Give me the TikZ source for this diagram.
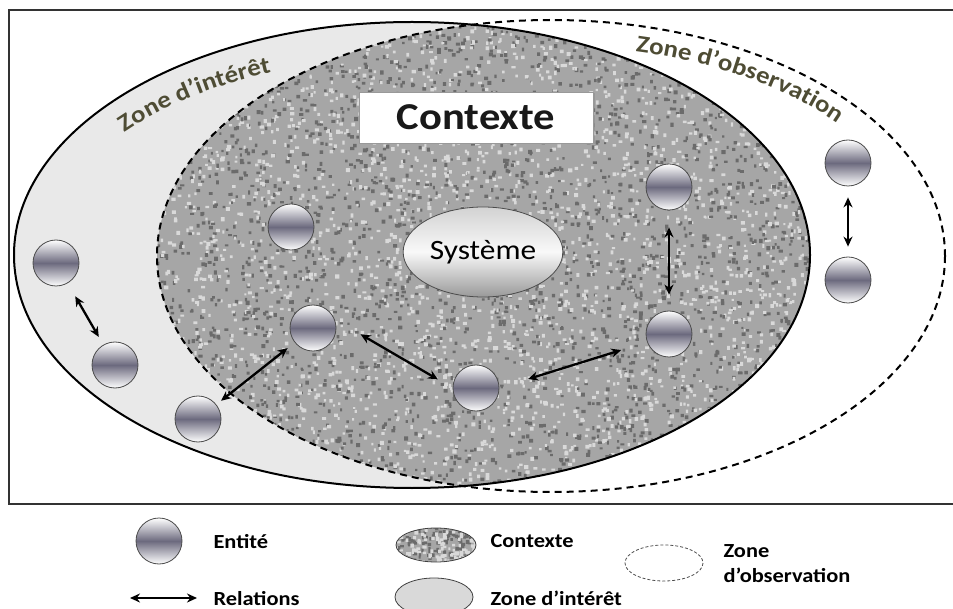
\documentclass[tikz,border=0pt]{standalone}
\usepackage{fontspec}
\setmainfont{Carlito}[FakeStretch=1.12]
\usepackage{tikz}
\usetikzlibrary{arrows.meta,positioning,shapes.geometric,shadows,decorations.text}

\definecolor{zonetext}{RGB}{78,76,52}
\definecolor{entmid}{RGB}{108,106,126}

% granite specks: n, x0, width, y0, height
\newcommand{\granite}[5]{%
  \fill[black!58] \foreach \k in {1,...,#1}{
    ({#2+#3*rnd},{#4+#5*rnd}) rectangle ++({2+2.2*rnd},{2+2.2*rnd})};
  \fill[black!15] \foreach \k in {1,...,#1}{
    ({#2+#3*rnd},{#4+#5*rnd}) rectangle ++({2+2.2*rnd},{2+2.2*rnd})};
}

\begin{document}
\begin{tikzpicture}[x=1pt,y=-1pt,
  every node/.style={font=\fontsize{20}{24}\selectfont\bfseries},
  ent/.style={circle,draw=black!70,line width=0.8pt,minimum size=46pt,inner sep=0pt,
    top color=white,bottom color=white,middle color=entmid},
  sys/.style={ellipse,draw=black!70,line width=0.8pt,minimum width=140pt,minimum height=90pt,
    top color=gray!35,bottom color=black!40,middle color=gray!5},
  rel/.style={{Stealth[length=10pt,width=9pt]}-{Stealth[length=10pt,width=9pt]},line width=2.3pt},
  zone/.style={line width=2pt}
]
\useasboundingbox (0,0) rectangle (953,609);

% frame
\draw[black!80,line width=1.3pt] (953,10) -- (9,10) -- (9,504) -- (953,504);

% zone d'interet and contexte
\fill[gray!17] (412,255) ellipse [x radius=398, y radius=233];
\begin{scope}
  \clip (412,255) ellipse [x radius=398, y radius=233];
  \clip (551,256) ellipse [x radius=394, y radius=236];
  \fill[black!35] (150,15) rectangle (815,495);
  \pgfmathsetseed{7}
  \foreach \c in {1,...,5}{\granite{600}{155}{658}{18}{476}}
\end{scope}
\draw[zone] (412,255) ellipse [x radius=398, y radius=233];
\draw[zone,dash pattern=on 7pt off 5pt] (551,256) ellipse [x radius=394, y radius=236];

% zone labels
\path[decorate,decoration={text along path,text align=center,text color=zonetext,
  text={|\fontsize{24}{24}\selectfont\bfseries|Zone d’intérêt}}]
  (412,255) ++(-145:366 and 198) arc[start angle=-145,end angle=-110,x radius=366,y radius=198];
\path[decorate,decoration={text along path,text align=center,text color=zonetext,
  text={|\fontsize{24}{24}\selectfont\bfseries|Zone d’observation}}]
  (551,256) ++(-80:370 and 210) arc[start angle=-80,end angle=-35,x radius=370,y radius=210];

\node[draw=black!40,fill=white,line width=0.6pt,minimum width=234pt,minimum height=51pt,
  drop shadow={opacity=.35,shadow xshift=1.5pt,shadow yshift=-1.5pt},
  text=black!90,font=\fontsize{38}{40}\selectfont\bfseries] (ctx) at (476,117.5) {Contexte};
\node[sys,font=\fontsize{28}{30}\selectfont] (sys) at (483,252) {Système};

% entities
\foreach \n/\x/\y in {e1/56/263,e2/115/365,e3/198/419,e4/291/227,e5/313/328,
  e6/476/388,e7/669/187,e8/669/334,e9/848/163,e10/848/280}
  \node[ent] (\n) at (\x,\y) {};

% relations
\foreach \a/\b/\s/\t in {e1/e2/15/9,e3/e5/6/9,e5.22/e6.west/30/17,
  e6.east/e8.200/30/27,e7/e8/17/16,e9/e10/11/10}
  \draw[rel,shorten <=\s,shorten >=\t] (\a) -- (\b);

% legend
\node[ent] (le) at (159,541) {};
\node[anchor=base west] (lte) at (210,548) {Entité};
\coordinate (ra) at (130,598);
\coordinate (rb) at (197,598);
\draw[rel] (ra) -- (rb);
\node[anchor=base west] (ltr) at (210,605) {Relations};

\begin{scope}
  \clip (436,545) ellipse [x radius=40, y radius=17];
  \fill[black!35] (390,525) rectangle (480,565);
  \granite{120}{394}{84}{526}{38}
\end{scope}
\draw[black!75,line width=0.8pt] (436,545) ellipse [x radius=40, y radius=17];
\node[anchor=base west] (ltc) at (487,547) {Contexte};

\filldraw[fill=gray!30,draw=black!75,line width=0.8pt] (434,597) ellipse [x radius=39, y radius=19];
\node[anchor=base west] (ltz) at (487,605) {Zone d’intérêt};

\draw[black!70,line width=0.8pt,dash pattern=on 3pt off 2pt] (664,563) ellipse [x radius=39, y radius=18];
\node[anchor=base west] (lto) at (720,557) {Zone};
\node[anchor=base west] (lto2) at (720,582) {d’observation};
\end{tikzpicture}
\end{document}
